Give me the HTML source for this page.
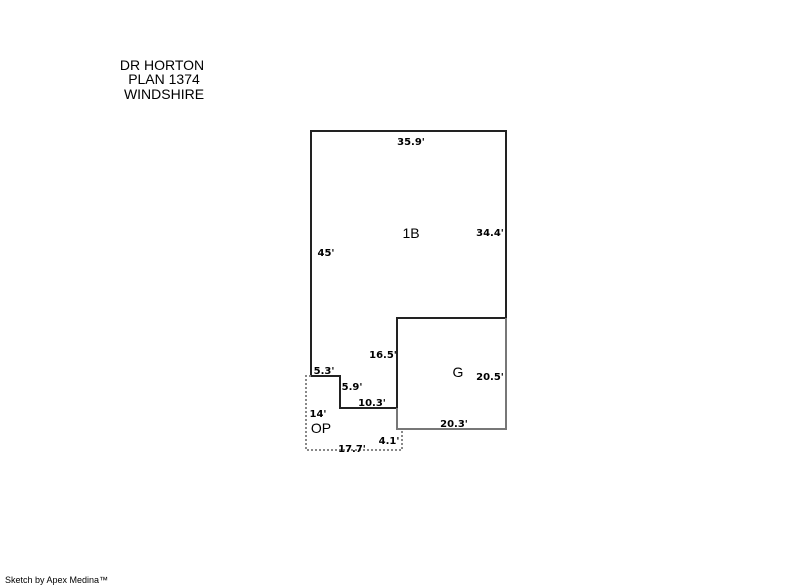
<!DOCTYPE html>
<html><head><style>
body{margin:0;background:#fff;width:800px;height:587px;overflow:hidden}
svg{display:block}
.b{font-family:"DejaVu Sans",sans-serif;font-weight:bold;font-size:10px;fill:#000}
.r{font-family:"Liberation Sans",sans-serif;font-size:14px;fill:#000}
</style></head><body>
<svg width="800" height="587" xmlns="http://www.w3.org/2000/svg">
<text class="r" x="162" y="70" text-anchor="middle">DR HORTON</text>
<text class="r" x="164" y="84" text-anchor="middle">PLAN 1374</text>
<text class="r" x="164" y="99" text-anchor="middle">WINDSHIRE</text>
<g fill="none" stroke-width="2">
<polyline stroke="#222" points="397,408 340,408 340,376 311,376 311,131 506,131 506,318"/>
<polyline stroke="#222" points="506,318 397,318 397,408"/>
<polyline stroke="#777" points="506,318 506,429 397,429 397,408"/>
<polyline stroke="#888" stroke-dasharray="2,2" points="311,376 306,376 306,450 402,450 402,429"/>
</g>
<text class="b" x="411" y="145" text-anchor="middle">35.9'</text>
<text class="r" x="411" y="238" text-anchor="middle">1B</text>
<text class="b" x="490" y="236" text-anchor="middle">34.4'</text>
<text class="b" x="326" y="256" text-anchor="middle">45'</text>
<text class="b" x="383" y="358" text-anchor="middle">16.5'</text>
<text class="r" x="458" y="377" text-anchor="middle">G</text>
<text class="b" x="490" y="380" text-anchor="middle">20.5'</text>
<text class="b" x="324" y="374" text-anchor="middle">5.3'</text>
<text class="b" x="352" y="390" text-anchor="middle">5.9'</text>
<text class="b" x="372" y="406" text-anchor="middle">10.3'</text>
<text class="b" x="318" y="417" text-anchor="middle">14'</text>
<text class="r" x="321" y="433" text-anchor="middle">OP</text>
<text class="b" x="454" y="427" text-anchor="middle">20.3'</text>
<text class="b" x="389" y="444" text-anchor="middle">4.1'</text>
<text class="b" x="352" y="452" text-anchor="middle">17.7'</text>
<text x="5" y="583" font-family="Liberation Sans,sans-serif" font-size="9" fill="#000">Sketch by Apex Medina™</text>
</svg>
</body></html>
